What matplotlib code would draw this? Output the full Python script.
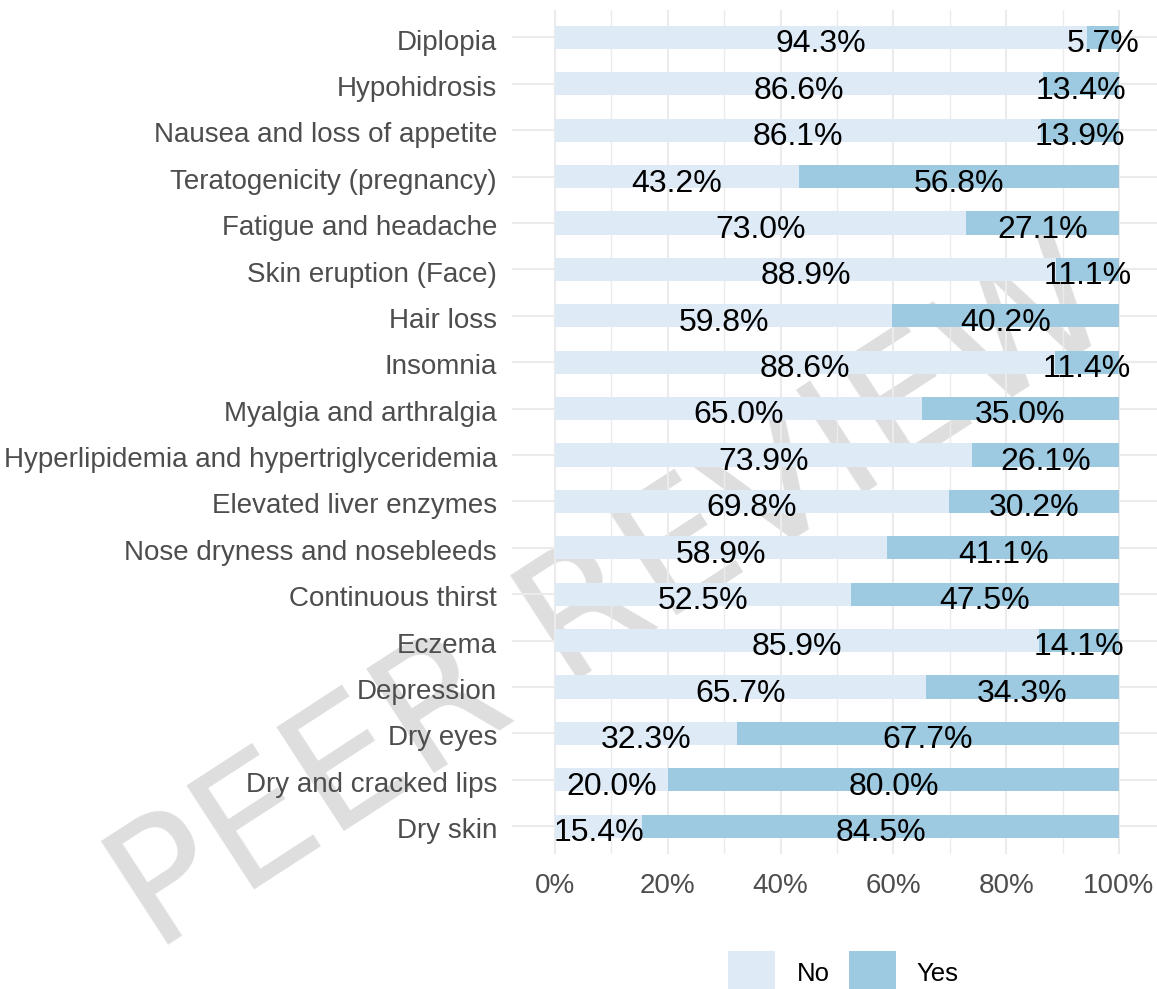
import matplotlib
matplotlib.use("Agg")
import matplotlib.pyplot as plt
from matplotlib.patches import Patch
from matplotlib.transforms import ScaledTranslation
import numpy as np

plt.rcParams['font.family'] = ['Liberation Sans', 'DejaVu Sans']

# ---- data (top to bottom as shown) ----
categories = [
    "Diplopia", "Hypohidrosis", "Nausea and loss of appetite",
    "Teratogenicity (pregnancy)", "Fatigue and headache", "Skin eruption (Face)",
    "Hair loss", "Insomnia", "Myalgia and arthralgia",
    "Hyperlipidemia and hypertriglyceridemia", "Elevated liver enzymes",
    "Nose dryness and nosebleeds", "Continuous thirst", "Eczema", "Depression",
    "Dry eyes", "Dry and cracked lips", "Dry skin",
]
no_pct = [94.3, 86.6, 86.1, 43.2, 73.0, 88.9, 59.8, 88.6, 65.0,
          73.9, 69.8, 58.9, 52.5, 85.9, 65.7, 32.3, 20.0, 15.4]
yes_pct = [5.7, 13.4, 13.9, 56.8, 27.1, 11.1, 40.2, 11.4, 35.0,
           26.1, 30.2, 41.1, 47.5, 14.1, 34.3, 67.7, 80.0, 84.5]
legend_labels = ["No", "Yes"]
x_ticks = [0, 0.2, 0.4, 0.6, 0.8, 1.0]
x_tick_labels = ["0%", "20%", "40%", "60%", "80%", "100%"]

c_no = "#deebf7"
c_yes = "#9ecae1"
grid_c = "#ebebeb"
txt_c = "#4d4d4d"

W, H = 1157, 989
fig = plt.figure(figsize=(W / 100, H / 100), dpi=100)

# watermark (behind everything)
fig.text(613 / W, 1 - 600 / H, "PEER REVIEW", rotation=33, fontsize=122,
         color="#dedede", ha="center", va="center", zorder=-5,
         family="DejaVu Sans", rotation_mode="anchor")

ax = fig.add_axes([512 / W, (H - 854) / H, (W - 512) / W, (854 - 9.65) / H])
ax.patch.set_alpha(0)

no = np.array(no_pct)
yes = np.array(yes_pct)
tot = no + yes
no_f = no / tot
yes_f = yes / tot
n = len(categories)
pos = np.arange(n)[::-1]  # first category on top

ax.barh(pos, no_f, height=0.5, color=c_no, zorder=2)
ax.barh(pos, yes_f, left=no_f, height=0.5, color=c_yes, zorder=2)

for p, a, b, va_, vb_ in zip(pos, no_f, yes_f, no_pct, yes_pct):
    ax.text(a / 2, p - 0.32, f"{va_:.1f}%", ha="center", va="baseline",
            fontsize=23, color="black", zorder=3)
    ax.text(a + b / 2, p - 0.32, f"{vb_:.1f}%", ha="center", va="baseline",
            fontsize=23, color="black", zorder=3)

ax.set_xlim(-0.0762, 1.0674)
ax.set_ylim(-0.6, n - 1 + 0.6)

ax.set_xticks(x_ticks)
ax.set_xticklabels(x_tick_labels)
ax.set_xticks([0.1, 0.3, 0.5, 0.7, 0.9], minor=True)
ax.set_yticks(pos)
ax.set_yticklabels(categories)

ax.tick_params(axis="both", which="both", length=0)
ax.tick_params(axis="x", labelsize=20, labelcolor=txt_c, pad=13.5)
ax.tick_params(axis="y", labelsize=20, labelcolor=txt_c, pad=10.8)

off = ScaledTranslation(0, -1.5 / 72, fig.dpi_scale_trans)
for lab in ax.get_yticklabels():
    lab.set_transform(lab.get_transform() + off)

ax.grid(True, which="major", axis="both", color=grid_c, linewidth=1.5, zorder=1)
ax.grid(True, which="minor", axis="x", color=grid_c, linewidth=1.0, zorder=1)
ax.set_axisbelow(True)
for s in ax.spines.values():
    s.set_visible(False)

handles = [Patch(facecolor=c_no, label=legend_labels[0]),
           Patch(facecolor=c_yes, label=legend_labels[1])]
fig.legend(handles=handles, loc="center", bbox_to_anchor=(843.5 / W, 16 / H),
           ncol=2, frameon=False, fontsize=18.5, handlelength=1.83,
           handleheight=2.2, handletextpad=0.82, columnspacing=0.74,
           borderpad=0, borderaxespad=0)

fig.savefig("out.png", dpi=100)
